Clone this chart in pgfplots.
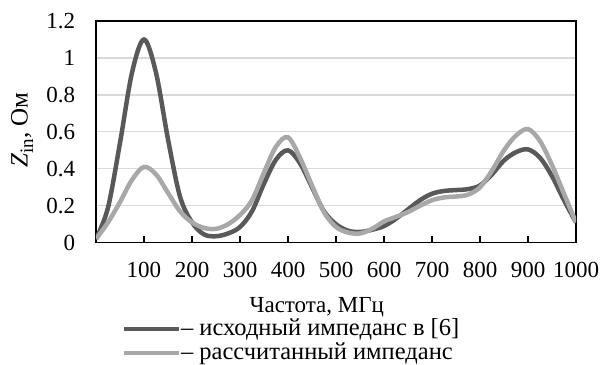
\documentclass[border=0pt]{standalone}
\usepackage{fontspec}
\setmainfont{Liberation Serif}
\usepackage{pgfplots}
\usepackage{pgfplotstable}
\pgfplotsset{compat=1.18}
\definecolor{darkline}{HTML}{595959}
\definecolor{lightline}{HTML}{A8A8A8}
\definecolor{gridc}{HTML}{D9D9D9}
\pgfplotstableread{
f z
0 0.02
25 0.19
50 0.54
75 0.92
100 1.10
125 0.92
150 0.56
175 0.25
200 0.11
225 0.045
250 0.035
275 0.05
300 0.085
325 0.17
350 0.32
375 0.45
400 0.50
425 0.43
450 0.30
475 0.17
500 0.10
525 0.065
550 0.058
575 0.07
600 0.09
625 0.13
650 0.18
675 0.23
700 0.265
725 0.28
750 0.285
775 0.29
800 0.31
825 0.37
850 0.445
875 0.49
900 0.505
925 0.46
950 0.36
975 0.23
1000 0.11
}\orig
\pgfplotstableread{
f z
0 0.02
25 0.11
50 0.22
75 0.34
100 0.41
125 0.37
150 0.27
175 0.17
200 0.11
225 0.08
250 0.075
275 0.10
300 0.15
325 0.23
350 0.38
375 0.52
400 0.57
425 0.46
450 0.31
475 0.165
500 0.085
525 0.055
550 0.05
575 0.075
600 0.115
625 0.14
650 0.166
675 0.20
700 0.23
725 0.245
750 0.25
775 0.26
800 0.30
825 0.39
850 0.50
875 0.58
900 0.615
925 0.55
950 0.42
975 0.265
1000 0.11
}\calc
\begin{document}
\fontsize{23bp}{26bp}\selectfont
\begin{tikzpicture}
\begin{axis}[
  name=ax,
  scale only axis, width=480bp, height=221.7bp,
  xmin=0, xmax=1000, ymin=0, ymax=1.2,
  xtick={100,200,300,400,500,600,700,800,900,1000},
  ytick={0,0.2,0.4,0.6,0.8,1,1.2},
  ymajorgrids, grid style={gridc, line width=1.2bp},
  axis line style={black, line width=1.2bp},
  tick align=inside, xtick pos=bottom,
  major tick length=7bp,
  xtick style={black, line width=1.2bp},
  ytick style={draw=none},
  /pgf/number format/assume math mode=true,
  /pgf/number format/set thousands separator={},
  yticklabel style={/pgf/number format/fixed, xshift=-13bp},
  xticklabel style={yshift=-12bp},
  tick label style={font=\fontsize{23bp}{26bp}\selectfont},
  xlabel={Частота, МГц},
  xlabel style={at={(axis description cs:0.46,-0.314)}, anchor=base, inner sep=1bp, font=\fontsize{23bp}{26bp}\selectfont},
  ylabel={\textit{Z}\raisebox{-0.22em}{\fontsize{19bp}{19bp}\selectfont in}, Ом},
  ylabel style={at={(axis description cs:-0.154,0.508)}, anchor=center, inner sep=1bp, font=\fontsize{25bp}{26bp}\selectfont},
  legend cell align=left,
  legend style={at={(axis description cs:0.054,-0.340)}, anchor=north west, draw=none, fill=none,
    inner sep=0pt, row sep=2bp, font=\fontsize{24.5bp}{26bp}\selectfont,
    nodes={inner sep=0pt, text height=17bp, text depth=5bp}},
  legend image code/.code={\draw[#1, line width=4bp] (0bp,0bp) -- (55bp,0bp);},
]
\addplot[darkline, line width=4.5bp, smooth, tension=0.55] table[x=f, y=z] {\orig};
\addlegendentry{– исходный импеданс в [6]}
\addplot[lightline, line width=4.5bp, smooth, tension=0.55] table[x=f, y=z] {\calc};
\addlegendentry{– рассчитанный импеданс}
\end{axis}
\pgfresetboundingbox
\path[use as bounding box] ([xshift=-96bp, yshift=-122.3bp]ax.south west) rectangle ([xshift=507bp, yshift=242.7bp]ax.south west);
\end{tikzpicture}
\end{document}
